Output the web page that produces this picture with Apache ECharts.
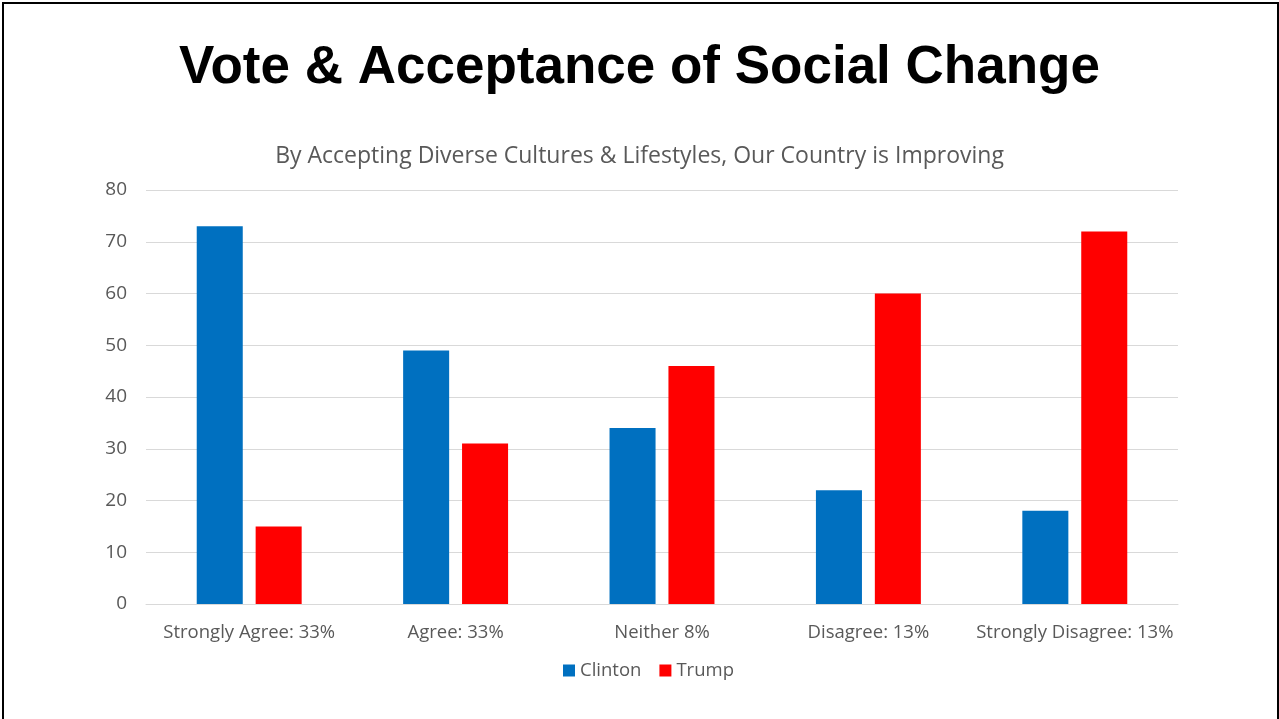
<!DOCTYPE html>
<html>
<head>
<meta charset="utf-8">
<script src="https://cdn.jsdelivr.net/npm/echarts@6/dist/echarts.min.js"></script>
<style>
  html, body { margin: 0; padding: 0; background: #fff; overflow: hidden; }
  #frame {
    position: absolute; left: 2px; top: 2px; width: 1273px; height: 740px;
    border: 2px solid #000; box-sizing: content-box;
  }
  #chart { position: absolute; left: 0; top: 0; width: 1279px; height: 719px; }
</style>
</head>
<body>
<div id="frame"></div>
<div id="chart"></div>
<script>
// Survey responses by category and vote share (%) for each candidate
const categories = ['Strongly Agree: 33%', 'Agree: 33%', 'Neither 8%', 'Disagree: 13%', 'Strongly Disagree: 13%'];
const clintonValues = [73, 49, 34, 22, 18];
const trumpValues = [15, 31, 46, 60, 72];
const seriesNames = ['Clinton', 'Trump'];

const chart = echarts.init(document.getElementById('chart'));
const labelColor = '#595959';
const bodyFont = '"Open Sans", "Noto Sans", sans-serif';

chart.setOption({
  animation: false,
  title: [
    {
      text: 'Vote & Acceptance of Social Change',
      left: 'center', top: 37,
      textStyle: { fontFamily: '"Liberation Sans", Arial, sans-serif', fontWeight: 'bold', fontSize: 53, color: '#000' }
    },
    {
      text: 'By Accepting Diverse Cultures & Lifestyles, Our Country is Improving',
      left: 'center', top: 140,
      textStyle: { fontFamily: bodyFont, fontWeight: 'normal', fontSize: 23, color: labelColor }
    }
  ],
  legend: {
    data: seriesNames,
    bottom: 34, left: 558,
    icon: 'rect', itemWidth: 12, itemHeight: 12, itemGap: 18, itemTextGap: 5,
    textStyle: { fontFamily: bodyFont, fontSize: 18.5, color: labelColor }
  },
  grid: { left: 146, right: 101, top: 190, bottom: 115 },
  xAxis: {
    type: 'category',
    data: categories,
    axisLine: { lineStyle: { color: '#d9d9d9', width: 1 } },
    axisTick: { show: false },
    axisLabel: { fontFamily: bodyFont, fontSize: 18.5, color: labelColor, margin: 19, interval: 0 }
  },
  yAxis: {
    type: 'value', min: 0, max: 80, interval: 10,
    axisLine: { show: false },
    axisTick: { show: false },
    splitLine: { lineStyle: { color: '#d9d9d9', width: 1 } },
    axisLabel: { fontFamily: bodyFont, fontSize: 19, color: labelColor, margin: 19 }
  },
  series: [
    { name: seriesNames[0], type: 'bar', data: clintonValues, itemStyle: { color: '#0070C0' }, barWidth: '22.3%', barGap: '28%' },
    { name: seriesNames[1], type: 'bar', data: trumpValues, itemStyle: { color: '#FF0000' }, barWidth: '22.3%', barGap: '28%' }
  ]
});
</script>
</body>
</html>
